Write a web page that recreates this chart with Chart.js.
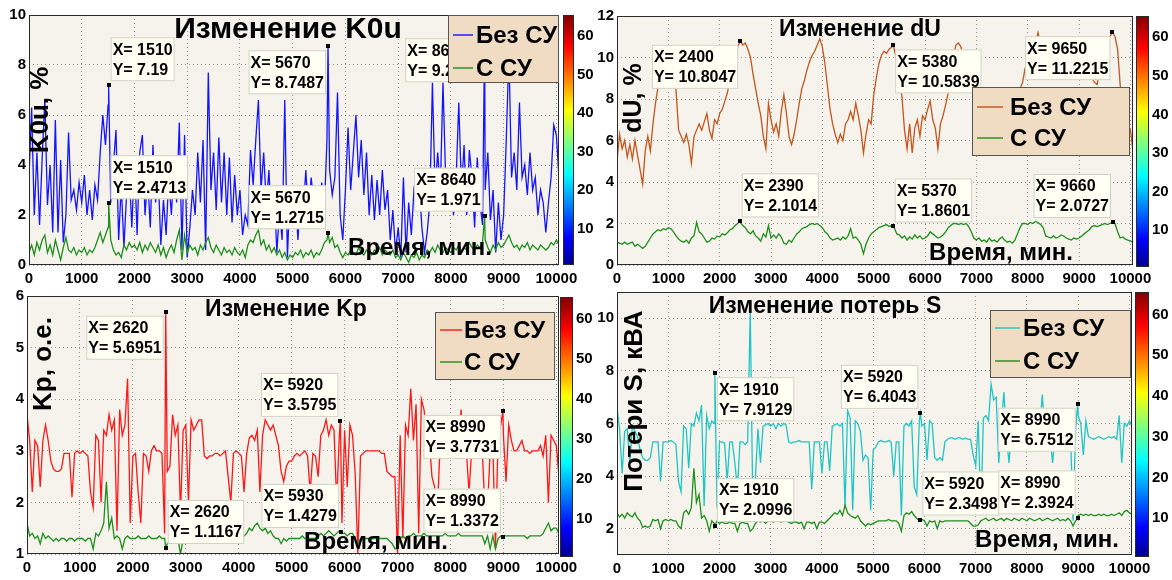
<!DOCTYPE html>
<html lang="ru">
<head>
<meta charset="utf-8">
<title>Изменение K0u, dU, Kp и потерь S</title>
<script src="https://cdn.jsdelivr.net/npm/chart.js@4.4.1/dist/chart.umd.min.js"></script>
<style>
  html, body { margin: 0; padding: 0; background: #ffffff; }
  #figure { position: relative; width: 1172px; height: 580px; overflow: hidden; background: #ffffff; }
  #figure canvas { position: absolute; }
</style>
</head>
<body>
<div id="figure">
  <canvas id="k0u"     width="586" height="290" style="left:0px;top:0px"></canvas>
  <canvas id="k0uBar"  width="40"  height="290" style="left:556px;top:0px"></canvas>
  <canvas id="du"      width="586" height="290" style="left:586px;top:0px"></canvas>
  <canvas id="duBar"   width="42"  height="290" style="left:1130px;top:0px"></canvas>
  <canvas id="kp"      width="586" height="300" style="left:0px;top:280px"></canvas>
  <canvas id="kpBar"   width="42"  height="300" style="left:554px;top:280px"></canvas>
  <canvas id="loss"    width="586" height="300" style="left:586px;top:280px"></canvas>
  <canvas id="lossBar" width="43"  height="300" style="left:1129px;top:280px"></canvas>
</div>
<script>
// ---------------------------------------------------------------------------
// Samples: one value every TIME_STEP minutes, starting at 0 min.
// Each row below covers 1000 minutes (20 samples).
// ---------------------------------------------------------------------------
const TIME_STEP = 50;

const timeTicks = [0, 1000, 2000, 3000, 4000, 5000, 6000, 7000, 8000, 9000, 10000];
const k0uTicks = [0, 2, 4, 6, 8, 10];
const duTicks = [0, 2, 4, 6, 8, 10, 12];
const kpTicks = [1, 2, 3, 4, 5, 6];
const lossTicks = [2, 4, 6, 8, 10];
const colorbarTicks = [10, 20, 30, 40, 50, 60];
const colorbarRange = [0.5, 65.5];

const seriesLabels = ['Без СУ', 'С СУ'];

// K0u, % — without / with the control device
const k0uWithout = [
  3.5,6.3,2.0,4.5,1.6,4.3,6.6,2.4,4.0,1.3,5.8,1.3,4.2,0.9,2.0,5.3,2.6,3.0,2.2,3.3,
  2.5,3.6,2.0,3.0,1.8,3.2,2.6,4.5,6.0,4.8,6.4,2.5,4.0,5.4,1.0,3.2,0.7,2.8,3.8,1.5,
  4.2,1.2,4.5,5.2,2.0,3.5,1.5,4.8,2.5,3.6,0.8,2.6,1.2,3.5,2.0,4.0,2.5,5.7,0.6,5.2,
  0.3,1.5,3.0,2.0,4.5,2.5,5.0,0.6,7.7,3.0,4.5,2.2,5.1,2.5,4.5,2.0,4.3,1.7,3.6,2.0,
  3.0,1.2,2.0,1.6,4.6,3.2,5.0,6.6,3.0,4.5,2.4,3.8,1.5,3.0,0.5,2.2,1.0,6.6,0.3,3.0,
  1.5,2.8,1.0,3.0,2.2,3.8,1.8,3.5,2.5,3.0,1.5,3.3,2.2,5.0,3.8,2.8,3.5,6.9,2.0,1.0,
  3.0,5.5,3.0,4.5,6.0,3.5,5.0,2.8,4.5,2.0,3.6,1.8,3.4,2.0,3.8,2.2,3.0,1.0,2.2,0.5,
  1.5,0.3,3.5,0.5,2.5,1.2,3.0,2.5,3.2,1.5,0.5,1.3,2.5,7.3,3.0,4.5,3.0,7.3,3.5,2.8,
  3.0,2.0,3.5,6.5,3.0,4.8,2.0,4.6,3.5,1.5,4.3,2.5,1.6,3.0,4.5,1.8,3.0,0.5,2.5,1.0,
  2.0,5.0,8.5,3.5,4.5,3.0,6.5,3.5,4.0,2.8,4.5,3.0,3.5,2.0,3.0,2.5,1.3,2.5,3.5,5.6,
  5.2,3.5
];
const k0uWith = [
  0.5,0.8,0.4,0.9,0.6,1.0,1.2,0.5,0.8,0.4,1.0,0.6,0.2,0.7,1.1,0.6,0.5,0.7,0.4,0.6,
  0.5,0.7,0.4,0.6,0.5,0.7,1.0,1.3,0.9,1.2,1.5,1.0,0.6,0.4,0.5,0.3,0.8,0.6,0.9,0.7,
  0.8,0.6,0.9,0.5,0.8,0.6,0.9,0.7,0.5,0.8,0.4,0.7,0.3,0.6,0.8,0.5,1.0,1.4,0.2,1.2,
  0.5,0.8,0.6,0.7,0.4,0.8,0.6,0.9,1.1,0.7,0.5,0.8,0.6,0.4,0.7,0.5,0.6,0.4,0.7,0.5,
  0.4,0.6,0.3,0.8,1.0,0.9,1.2,1.4,0.8,1.0,0.6,0.8,0.5,0.7,0.4,0.6,0.3,0.5,0.2,0.4,
  0.3,0.5,0.4,0.6,0.3,0.5,0.4,0.6,0.3,0.5,0.4,0.6,0.9,1.0,0.9,1.1,0.7,0.8,0.5,0.3,
  0.5,0.4,0.6,0.5,0.4,0.7,0.5,0.4,0.6,0.5,0.4,0.6,0.5,0.7,0.4,0.6,0.5,0.4,0.6,0.3,
  0.4,0.2,0.5,0.3,0.1,0.4,0.3,0.5,0.2,0.4,0.3,0.6,0.5,0.7,0.5,0.8,0.6,0.5,0.7,0.6,
  0.5,0.7,0.6,0.8,0.5,0.7,0.6,0.9,0.7,0.6,0.8,0.7,0.9,1.0,0.7,0.5,0.8,0.6,0.9,0.7,
  0.8,1.0,1.2,0.9,0.7,0.8,0.6,0.8,0.7,0.9,0.6,0.8,0.7,0.6,0.8,0.7,0.6,0.7,0.9,0.8,
  1.0,0.8
];
const k0uTipsWithout = [[1510, 7.19], [5670, 8.7487], [8640, 9.2281]];
const k0uTipsWith = [[1510, 2.4713], [5670, 1.2715], [8640, 1.971]];

// dU, %
const duWithout = [
  5.0,6.3,5.6,6.0,5.2,5.8,5.1,6.0,5.3,4.6,3.9,5.5,6.2,5.5,6.8,7.8,8.6,9.0,9.4,9.8,
  10.0,10.2,9.6,8.4,6.5,6.2,5.9,6.3,5.8,4.9,6.2,6.5,6.8,6.5,6.9,7.3,6.5,6.1,7.0,6.8,
  7.3,7.5,7.9,8.3,8.9,9.5,10.1,10.5,10.8,10.6,10.7,10.4,10.0,9.2,8.5,7.8,7.2,6.2,5.6,7.8,
  7.0,6.4,6.8,6.2,7.4,8.2,7.3,6.2,5.8,6.3,7.0,7.8,8.5,8.9,9.4,9.8,10.1,10.3,10.6,10.9,
  10.5,9.7,8.6,7.5,6.8,6.3,5.9,6.3,6.0,6.8,7.0,7.4,7.0,7.8,7.2,6.5,5.4,6.3,7.0,6.8,
  8.2,9.0,9.7,10.1,10.3,10.2,10.4,10.5,10.4,9.8,9.0,8.1,6.5,5.6,6.8,5.4,6.6,7.0,6.2,7.2,
  7.0,7.5,7.9,7.0,6.6,5.6,6.8,7.2,7.7,8.3,9.2,10.0,10.6,10.7,10.5,10.0,9.6,9.0,8.5,8.0,
  7.5,7.0,6.5,6.2,6.8,6.0,6.5,7.2,6.8,7.5,7.0,6.4,7.0,7.6,7.2,7.8,8.2,8.5,8.8,9.5,
  9.8,10.2,10.5,10.7,11.2,10.6,10.3,10.0,9.6,9.8,10.2,10.0,9.5,9.2,9.6,9.9,10.3,10.1,9.7,9.5,
  9.8,10.2,10.0,9.6,9.2,9.0,8.8,8.7,9.3,9.8,10.3,10.7,11.0,11.2,11.0,10.4,8.7,7.5,7.0,6.8,
  6.5,5.5
];
const duWith = [
  1.1,1.05,1.0,1.1,1.0,1.05,1.1,0.9,1.0,0.9,0.8,0.9,1.1,1.3,1.5,1.6,1.7,1.65,1.75,1.7,
  1.8,1.75,1.6,1.4,1.25,1.15,1.1,1.2,1.05,1.3,1.4,2.05,1.6,1.5,1.3,1.1,1.15,1.3,1.25,1.4,
  1.35,1.5,1.45,1.55,1.7,1.75,1.9,2.0,2.05,1.9,1.8,1.6,1.5,1.65,1.4,1.3,1.15,1.5,1.35,1.9,
  1.3,1.45,1.3,1.5,1.35,1.05,1.0,1.2,1.1,1.3,1.5,1.6,1.75,1.8,1.85,1.95,2.0,1.95,2.0,1.9,
  1.8,1.6,1.5,1.3,1.2,1.25,1.3,1.2,1.35,1.25,1.4,1.75,1.3,1.35,1.2,1.0,0.55,1.0,1.3,1.5,
  1.6,1.7,1.8,1.85,1.9,1.95,1.85,1.9,1.8,1.5,1.45,1.3,1.4,1.2,1.35,1.25,1.45,1.3,1.4,1.25,
  1.3,1.4,1.6,1.5,1.4,1.3,1.35,1.45,1.6,1.8,1.9,2.0,2.0,1.95,2.0,1.95,2.0,1.85,1.6,1.3,
  1.2,1.3,1.15,1.2,1.1,1.3,1.15,1.2,1.1,1.25,1.35,1.2,1.1,1.15,1.05,1.2,1.5,1.8,2.0,2.0,
  1.95,2.05,2.0,2.1,2.05,1.95,1.8,1.4,1.35,1.3,1.4,1.3,1.35,1.45,1.4,1.3,1.25,1.2,1.3,1.25,
  1.3,1.4,1.5,1.6,1.7,1.85,1.9,1.85,1.9,1.95,2.0,1.95,2.0,2.05,2.0,1.6,1.3,1.35,1.25,1.2,
  1.15,1.1
];
const duTipsWithout = [[2400, 10.8047], [5380, 10.5839], [9650, 11.2215]];
const duTipsWith = [[2390, 2.1014], [5370, 1.8601], [9660, 2.0727]];

// Kp, о.е.
const kpWithout = [
  3.7,3.2,2.2,3.2,3.1,2.3,3.2,3.5,3.2,2.8,2.65,2.6,2.6,2.65,2.95,2.95,2.95,2.1,2.95,3.0,
  2.95,3.0,2.95,2.9,2.2,1.9,3.3,3.2,2.0,3.4,3.3,3.7,3.4,3.6,1.45,3.8,3.3,3.5,4.4,1.6,
  2.9,2.95,2.2,1.6,2.95,2.9,2.6,3.0,3.1,3.0,3.0,2.95,1.4,2.6,2.7,3.7,3.3,3.5,1.8,3.4,
  3.5,2.0,3.6,3.4,3.5,3.6,3.6,2.9,2.85,2.9,2.9,2.95,2.95,2.9,2.95,3.0,2.5,2.0,2.95,3.0,
  2.95,2.9,2.2,2.95,3.25,3.3,3.2,3.4,2.2,3.3,3.6,3.5,3.4,3.5,3.3,3.1,2.6,2.4,2.7,2.8,
  2.8,2.9,2.95,2.9,2.95,3.0,2.9,2.2,2.95,2.9,2.5,3.3,3.4,3.6,3.3,3.5,3.4,2.0,3.3,1.6,
  3.4,2.3,3.5,3.3,2.55,1.0,2.9,2.95,3.0,3.0,3.0,3.0,3.0,3.0,2.95,2.95,2.6,2.55,2.5,2.5,
  1.0,3.3,1.3,3.5,3.3,4.2,3.2,3.9,1.4,4.0,3.8,3.3,3.2,2.5,2.3,1.8,3.0,2.9,3.0,2.9,
  3.0,2.95,3.0,3.0,3.8,2.9,3.0,2.2,3.0,2.9,3.0,3.1,3.0,1.9,1.9,3.0,3.1,1.1,3.3,3.5,
  3.3,2.4,3.5,3.2,3.0,3.0,3.1,3.2,3.0,3.0,2.95,3.0,3.0,3.0,3.1,2.9,3.3,2.0,3.3,3.2,
  3.1,2.5
];
const kpWith = [
  1.6,1.35,1.4,1.3,1.35,1.2,1.4,1.3,1.35,1.3,1.25,1.3,1.25,1.3,1.3,1.25,1.3,1.3,1.25,1.3,
  1.3,1.3,1.25,1.3,1.3,1.1,1.4,1.35,1.45,1.6,2.4,1.5,1.7,1.3,1.35,1.3,1.1,1.3,1.35,1.3,
  1.3,1.3,1.35,1.3,1.3,1.3,1.35,1.3,1.3,1.3,1.35,1.3,1.3,1.2,1.25,1.3,1.3,1.3,1.0,1.3,
  1.3,1.3,1.25,1.3,1.3,1.3,1.3,1.3,1.25,1.3,1.3,1.3,1.3,1.3,1.3,1.3,1.25,1.3,1.3,1.3,
  1.3,1.3,1.35,1.4,1.5,1.45,1.55,1.6,1.5,1.45,1.5,1.4,1.45,1.35,1.3,1.3,1.2,1.3,1.25,1.3,
  1.3,1.3,1.3,1.3,1.35,1.3,1.3,1.3,1.3,1.3,1.35,1.4,1.35,1.4,1.45,1.4,1.35,1.4,1.45,1.4,
  1.4,1.35,1.4,1.4,1.3,1.2,1.3,1.3,1.3,1.3,1.3,1.3,1.3,1.3,1.3,1.3,1.3,1.25,1.2,1.1,
  1.1,1.3,1.35,1.3,1.35,1.35,1.4,1.35,1.35,1.35,1.4,1.35,1.35,1.35,1.35,1.35,1.35,1.35,1.4,1.35,
  1.35,1.35,1.35,1.4,1.35,1.35,1.35,1.35,1.35,1.35,1.35,1.35,1.35,1.2,1.35,1.1,1.35,1.1,1.3,1.35,
  1.35,1.35,1.35,1.35,1.35,1.35,1.35,1.35,1.35,1.3,1.35,1.35,1.35,1.35,1.35,1.4,1.5,1.6,1.45,1.5,
  1.5,1.4
];
const kpTipsWithout = [[2620, 5.6951], [5920, 3.5795], [8990, 3.7731]];
const kpTipsWith = [[2620, 1.1167], [5930, 1.4279], [8990, 1.3372]];

// Потери S, кВА
const lossWithout = [
  6.6,5.8,4.1,5.7,5.8,4.5,5.9,5.7,5.5,5.0,4.7,4.6,4.6,4.7,5.3,5.3,5.3,3.8,5.3,5.3,
  5.3,5.35,5.3,5.2,3.8,3.4,5.9,5.8,4.3,6.0,5.9,6.4,6.1,6.7,2.85,6.3,5.8,6.1,6.0,2.8,
  5.3,5.3,5.25,3.8,5.3,5.3,4.5,3.5,5.3,5.3,5.2,5.3,10.3,3.0,3.9,5.8,4.5,5.9,5.95,6.0,
  5.9,6.0,5.8,6.0,5.9,6.0,5.95,5.3,5.25,5.3,5.3,5.35,5.3,5.3,5.3,5.3,3.5,5.3,5.3,5.3,
  4.1,5.3,5.3,4.2,5.9,5.95,6.0,5.9,6.0,2.8,6.5,6.2,2.7,6.1,6.0,5.7,4.6,4.8,4.7,2.7,
  5.0,5.1,5.3,5.35,5.3,5.3,5.35,5.3,4.0,5.3,5.3,2.5,5.9,6.0,5.9,6.1,3.6,3.3,6.1,5.9,
  6.0,4.6,6.1,6.0,4.7,4.6,4.7,4.6,5.3,5.4,5.45,5.45,5.4,5.45,5.45,5.4,5.45,5.4,5.4,4.8,
  4.4,6.1,2.5,6.2,6.3,6.1,7.5,6.9,7.0,4.5,6.0,7.2,5.5,4.5,5.8,5.5,5.9,5.6,5.8,5.5,
  5.6,5.8,5.5,5.7,5.6,5.8,7.1,5.6,5.7,5.5,4.5,5.6,5.7,5.5,5.6,5.7,5.5,5.6,2.3,5.8,
  6.3,6.0,4.8,6.1,5.5,5.45,5.4,5.45,5.5,5.45,5.4,5.45,5.5,5.45,5.5,5.4,6.3,4.5,6.0,5.9,
  6.1,5.9
];
const lossWith = [
  2.6,2.45,2.55,2.4,2.6,2.5,2.45,2.6,2.4,2.3,2.05,2.1,2.05,2.1,2.35,2.3,2.35,2.0,2.3,2.35,
  2.3,2.35,2.3,2.3,2.1,2.0,2.6,2.7,2.55,2.8,4.3,3.0,3.3,2.4,2.5,2.3,1.9,2.3,2.2,2.3,
  2.2,2.25,2.2,2.2,2.25,2.2,2.2,1.9,2.2,2.25,2.2,2.2,1.9,2.0,2.2,2.3,2.25,2.3,2.2,2.3,
  2.3,2.25,2.3,2.3,2.25,2.3,2.3,2.25,2.2,2.25,2.25,2.2,2.25,2.0,2.25,2.25,2.2,2.25,2.0,2.25,
  2.25,2.2,2.3,2.4,2.5,2.6,2.55,2.7,2.5,2.9,2.6,2.5,2.45,2.4,2.5,2.3,2.2,2.1,2.2,2.15,
  2.2,2.25,2.3,2.3,2.3,2.3,2.35,2.3,2.3,2.3,2.2,1.9,2.5,2.6,2.55,2.65,2.5,2.4,2.3,2.35,
  2.3,2.1,2.3,2.25,2.3,2.0,2.3,2.25,2.3,2.3,2.3,2.3,2.3,2.3,2.3,2.3,2.3,2.3,2.2,2.1,
  2.1,2.15,2.3,2.35,2.4,2.3,2.35,2.4,2.3,2.35,2.4,2.3,2.4,2.35,2.3,2.4,2.35,2.3,2.4,2.35,
  2.3,2.4,2.35,2.3,2.35,2.4,2.3,2.35,2.4,2.35,2.3,2.35,2.4,2.3,2.35,2.3,2.4,2.3,2.1,2.3,
  2.5,2.55,2.5,2.55,2.5,2.55,2.5,2.5,2.55,2.5,2.55,2.5,2.5,2.55,2.5,2.55,2.6,2.5,2.65,2.7,
  2.6,2.55
];
const lossTipsWithout = [[1910, 7.9129], [5920, 6.4043], [8990, 6.7512]];
const lossTipsWith = [[1910, 2.0996], [5920, 2.3498], [8990, 2.3924]];

// ---------------------------------------------------------------------------
// Styling
// ---------------------------------------------------------------------------
const FONT = '"Liberation Sans", Arial, Helvetica, sans-serif';
const TICK_FONT = { family: FONT, size: 15, weight: 'bold' };
const PLOT_BG = '#f6f3ec';
const TIP_BG = '#fffff3';
const TIP_EDGE = 'rgba(190,190,180,0.7)';
const LEGEND_BG = '#efdcc3';
const GRID = 'rgba(70,70,70,0.55)';
const GREEN = '#1d8f1d';
const X_RANGE = [0, 10050];

// MATLAB "jet" colour map stops
const JET_STOPS = [[0, '#00008f'], [0.111, '#0000ff'], [0.365, '#00ffff'],
                   [0.619, '#ffff00'], [0.873, '#ff0000'], [1, '#800000']];

Chart.defaults.font.family = FONT;

const panels = [
  {
    canvas: 'k0u', bar: 'k0uBar',
    yRange: [0, 10], yTicks: k0uTicks,
    series: [
      { values: k0uWithout, tips: k0uTipsWithout, color: '#1414ff', place: ['ur', 'll', 'll'] },
      { values: k0uWith, tips: k0uTipsWith, color: GREEN, place: ['ur', 'ul', 'ul'] }
    ],
    title: 'Изменение K0u', yTitle: 'K0u, %', xTitle: 'Время, мин.',
    frame: { yAxis: 29, xAxis: 25, top: 15, right: 27 },
    titleAt: [288, 30, 30], yTitleAt: [41, 110, 26], xTitleAt: [420, 248, 24],
    legendAt: { left: 448, top: 15, width: 111, height: 68, rows: [35, 68], line: [453, 473], text: 476 },
    barFrame: { left: 7, top: 15, bottom: 25, axis: 22 }
  },
  {
    canvas: 'du', bar: 'duBar',
    yRange: [0, 12], yTicks: duTicks,
    series: [
      { values: duWithout, tips: duTipsWithout, color: '#c5551e', place: ['ll', 'lr', 'll'] },
      { values: duWith, tips: duTipsWith, color: GREEN, place: ['ur', 'ur', 'ul'] }
    ],
    title: 'Изменение dU', yTitle: 'dU, %', xTitle: 'Время, мин.',
    frame: { yAxis: 31, xAxis: 25, top: 16, right: 39 },
    titleAt: [274, 30, 23], yTitleAt: [48, 98, 25], xTitleAt: [415, 253, 24],
    legendAt: { left: 386, top: 87, width: 158, height: 69, rows: [107, 138], line: [391, 417], text: 424 },
    barFrame: { left: 6, top: 16, bottom: 23, axis: 23 }
  },
  {
    canvas: 'kp', bar: 'kpBar',
    yRange: [1, 6], yTicks: kpTicks,
    series: [
      { values: kpWithout, tips: kpTipsWithout, color: '#ff1616', place: ['ll', 'ul', 'll'] },
      { values: kpWith, tips: kpTipsWith, color: GREEN, place: ['ur', 'ul', 'ul'] }
    ],
    title: 'Изменение Kp', yTitle: 'Kp, о.е.', xTitle: 'Время, мин.',
    frame: { yAxis: 27, xAxis: 26, top: 16, right: 27 },
    titleAt: [286, 30, 23], yTitleAt: [44, 84, 26], xTitleAt: [376, 262, 24],
    legendAt: { left: 435, top: 32, width: 120, height: 68, rows: [50, 82], line: [440, 462], text: 464 },
    barFrame: { left: 6, top: 17, bottom: 23, axis: 23 }
  },
  {
    canvas: 'loss', bar: 'lossBar',
    yRange: [1, 11], yTicks: lossTicks,
    series: [
      { values: lossWithout, tips: lossTipsWithout, color: '#1fc5c5', place: ['lr', 'ul', 'll'] },
      { values: lossWith, tips: lossTipsWith, color: GREEN, place: ['ur', 'ur', 'ul'] }
    ],
    title: 'Изменение потерь S', yTitle: 'Потери S, кВА', xTitle: 'Время, мин.',
    frame: { yAxis: 31, xAxis: 25, top: 12, right: 40 },
    titleAt: [239, 27, 23], yTitleAt: [49, 121, 26], xTitleAt: [461, 260, 24],
    legendAt: { left: 404, top: 30, width: 141, height: 68, rows: [48, 81], line: [409, 434], text: 437 },
    barFrame: { left: 6, top: 12, bottom: 23, axis: 23 }
  }
];

// Merge the regular samples with the marked (data-tip) points
function buildSeries(values, tips) {
  const tipX = new Set(tips.map(t => t[0]));
  const pts = values.map((v, i) => ({ x: i * TIME_STEP, y: v })).filter(p => !tipX.has(p.x));
  tips.forEach(([x, y]) => pts.push({ x, y }));
  return pts.sort((a, b) => a.x - b.x);
}

function fixedTicks(list) {
  return scale => { scale.ticks = list.map(v => ({ value: v })); };
}

function drawTip(ctx, mx, my, lines, place) {
  ctx.save();
  ctx.font = `bold 16px ${FONT}`;
  const w = Math.max(...lines.map(t => ctx.measureText(t).width)) + 4;
  const h = 44, gx = 2, gy = 4;
  const left = place[1] === 'r' ? mx + gx : mx - gx - w;
  const top = place[0] === 'u' ? my - gy - h : my + gy;
  ctx.fillStyle = TIP_BG;
  ctx.fillRect(left, top, w, h);
  ctx.strokeStyle = TIP_EDGE;
  ctx.lineWidth = 1;
  ctx.strokeRect(left + 0.5, top + 0.5, w - 1, h - 1);
  ctx.fillStyle = '#000';
  ctx.textAlign = 'left';
  ctx.textBaseline = 'middle';
  lines.forEach((t, k) => ctx.fillText(t, left + 2, top + 13 + k * 20));
  ctx.fillRect(Math.round(mx) - 2, Math.round(my) - 2, 4, 4);
  ctx.restore();
}

function drawLegend(ctx, L, datasets) {
  ctx.save();
  ctx.fillStyle = LEGEND_BG;
  ctx.fillRect(L.left, L.top, L.width, L.height);
  ctx.strokeStyle = '#555';
  ctx.lineWidth = 1;
  ctx.strokeRect(L.left + 0.5, L.top + 0.5, L.width - 1, L.height - 1);
  ctx.font = `bold 24px ${FONT}`;
  ctx.textAlign = 'left';
  ctx.textBaseline = 'middle';
  datasets.forEach((d, i) => {
    const yy = L.rows[i];
    ctx.strokeStyle = d.borderColor;
    ctx.lineWidth = 1.4;
    ctx.beginPath();
    ctx.moveTo(L.line[0], yy);
    ctx.lineTo(L.line[1], yy);
    ctx.stroke();
    ctx.fillStyle = '#000';
    ctx.fillText(d.label, L.text, L.rows[i] + 1);
  });
  ctx.restore();
}

function drawText(ctx, text, [x, y, size], rotate) {
  ctx.save();
  ctx.font = `bold ${size}px ${FONT}`;
  ctx.fillStyle = '#000';
  ctx.textAlign = 'center';
  ctx.textBaseline = 'middle';
  ctx.translate(x, y);
  if (rotate) ctx.rotate(-Math.PI / 2);
  ctx.fillText(text, 0, 0);
  ctx.restore();
}

function decorPlugin(panel) {
  return {
    id: 'decor',
    beforeDraw(chart) {
      const { ctx, chartArea: a } = chart;
      ctx.save();
      ctx.fillStyle = PLOT_BG;
      ctx.fillRect(a.left, a.top, a.right - a.left, a.bottom - a.top);
      ctx.restore();
    },
    afterDatasetsDraw(chart) {
      const { ctx, chartArea: a } = chart;
      const xs = chart.scales.x, ys = chart.scales.y;
      ctx.save();
      ctx.strokeStyle = '#2a2a2a';
      ctx.lineWidth = 1;
      ctx.strokeRect(Math.round(a.left) + 0.5, Math.round(a.top) + 0.5,
                     Math.round(a.right - a.left) - 1, Math.round(a.bottom - a.top) - 1);
      ctx.restore();
      panel.series.forEach(s => s.tips.forEach(([tx, ty], k) => {
        drawTip(ctx, xs.getPixelForValue(tx), ys.getPixelForValue(ty),
                ['X= ' + tx, 'Y= ' + ty], s.place[k]);
      }));
      drawLegend(ctx, panel.legendAt, chart.data.datasets);
      drawText(ctx, panel.title, panel.titleAt, false);
      drawText(ctx, panel.yTitle, panel.yTitleAt, true);
      drawText(ctx, panel.xTitle, panel.xTitleAt, false);
    }
  };
}

function axisStyle() {
  return {
    grid: { color: GRID, lineWidth: 1, drawTicks: false },
    border: { display: false, dash: [1, 3] },
  };
}

panels.forEach(panel => {
  const f = panel.frame;
  new Chart(document.getElementById(panel.canvas), {
    type: 'line',
    data: {
      datasets: panel.series.map((s, i) => ({
        label: seriesLabels[i],
        data: buildSeries(s.values, s.tips),
        borderColor: s.color,
        borderWidth: 1.3,
        pointRadius: 0,
        pointHoverRadius: 0,
        tension: 0,
        fill: false,
        order: panel.series.length - i
      }))
    },
    options: {
      responsive: false,
      animation: false,
      devicePixelRatio: 1,
      events: [],
      layout: { padding: { top: f.top, right: f.right, left: 0, bottom: 0 } },
      plugins: { legend: { display: false }, tooltip: { enabled: false } },
      scales: {
        x: {
          type: 'linear', min: X_RANGE[0], max: X_RANGE[1],
          afterBuildTicks: fixedTicks(timeTicks),
          afterFit: s => { s.height = f.xAxis; },
          ...axisStyle(),
          ticks: { font: TICK_FONT, color: '#000', padding: 5, maxRotation: 0, autoSkip: false,
                   callback: v => String(v) }
        },
        y: {
          type: 'linear', min: panel.yRange[0], max: panel.yRange[1],
          afterBuildTicks: fixedTicks(panel.yTicks),
          afterFit: s => { s.width = f.yAxis; },
          ...axisStyle(),
          ticks: { font: TICK_FONT, color: '#000', padding: 3, callback: v => String(v) }
        }
      }
    },
    plugins: [decorPlugin(panel)]
  });

  // colour bar beside each panel
  const b = panel.barFrame;
  new Chart(document.getElementById(panel.bar), {
    type: 'bar',
    data: {
      labels: [''],
      datasets: [{
        data: [colorbarRange],
        borderWidth: 0,
        barPercentage: 1,
        categoryPercentage: 1,
        backgroundColor(ctx) {
          const area = ctx.chart.chartArea;
          if (!area) return '#0000ff';
          const g = ctx.chart.ctx.createLinearGradient(0, area.bottom, 0, area.top);
          JET_STOPS.forEach(([p, c]) => g.addColorStop(p, c));
          return g;
        }
      }]
    },
    options: {
      responsive: false,
      animation: false,
      devicePixelRatio: 1,
      events: [],
      layout: { padding: { left: b.left, top: b.top, bottom: b.bottom, right: 0 } },
      plugins: { legend: { display: false }, tooltip: { enabled: false } },
      scales: {
        x: { display: false },
        y: {
          position: 'right', min: colorbarRange[0], max: colorbarRange[1],
          afterBuildTicks: fixedTicks(colorbarTicks),
          afterFit: s => { s.width = b.axis; },
          grid: { display: false, drawTicks: false },
          border: { display: false },
          ticks: { font: TICK_FONT, color: '#000', padding: 3, callback: v => String(v) }
        }
      }
    },
    plugins: [{
      id: 'barFrame',
      afterDatasetsDraw(chart) {
        const { ctx, chartArea: a } = chart;
        ctx.save();
        ctx.strokeStyle = '#2a2a2a';
        ctx.lineWidth = 1;
        ctx.strokeRect(Math.round(a.left) + 0.5, Math.round(a.top) + 0.5,
                       Math.round(a.right - a.left) - 1, Math.round(a.bottom - a.top) - 1);
        ctx.restore();
      }
    }]
  });
});
</script>
</body>
</html>
